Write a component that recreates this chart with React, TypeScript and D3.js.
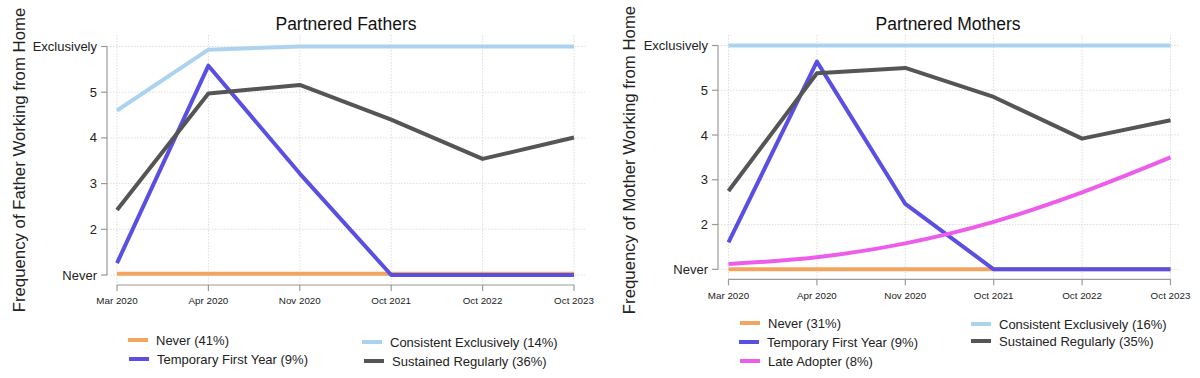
import React from "react";
import * as d3 from "d3";

const waves = ["Mar 2020", "Apr 2020", "Nov 2020", "Oct 2021", "Oct 2022", "Oct 2023"];
const yTickValues = [1, 2, 3, 4, 5, 6];
const yTickLabels = ["Never", "2", "3", "4", "5", "Exclusively"];

// Partnered fathers
const fNever = [1.03, 1.03, 1.03, 1.03, 1.03, 1.03];
const fTemporary = [1.26, 5.58, 3.22, 1.0, 1.0, 1.0];
const fConsistent = [4.6, 5.93, 6.0, 6.0, 6.0, 6.0];
const fSustained = [2.42, 4.97, 5.16, 4.4, 3.54, 4.01];

// Partnered mothers
const mNever = [1.0, 1.0, 1.0, 1.0, 1.0, 1.0];
const mTemporary = [1.6, 5.64, 2.46, 1.0, 1.0, 1.0];
const mLate = [1.12, 1.27, 1.58, 2.06, 2.72, 3.5];
const mConsistent = [6.0, 6.0, 6.0, 6.0, 6.0, 6.0];
const mSustained = [2.75, 5.38, 5.5, 4.85, 3.92, 4.33];

const fLabels = ["Never (41%)", "Temporary First Year (9%)", "Consistent Exclusively (14%)", "Sustained Regularly (36%)"];
const mLabels = ["Never (31%)", "Temporary First Year (9%)", "Late Adopter (8%)", "Consistent Exclusively (16%)", "Sustained Regularly (35%)"];

const C = {
  never: "#f2a461",
  temp: "#5a4fe3",
  late: "#ee5de9",
  cons: "#acd3ee",
  sust: "#555555",
};

const FONT = "'Liberation Sans', Arial, Helvetica, sans-serif";

type Series = { values: number[]; color: string; curve?: boolean };
type LegendItem = { label: string; color: string; x: number; y: number };

function Panel(props: {
  title: string;
  yTitle: string;
  x0: number;
  x1: number;
  yTop: number;
  yBottom: number;
  axisX: number;
  axisY: number;
  gridRight: number;
  gridTop: number;
  titleX: number;
  yTitleX: number;
  series: Series[];
  legend: LegendItem[];
}) {
  const { x0, x1, yTop, yBottom, axisX, axisY, gridRight, gridTop } = props;
  const x = d3.scalePoint<string>().domain(waves).range([x0, x1]);
  const y = d3.scaleLinear().domain([1, 6]).range([yBottom, yTop]);
  const gridColor = "#dcdcdc";
  const axisColor = "#9a9a9a";
  return (
    <g>
      {/* grid */}
      {yTickValues.map((v) => (
        <line key={"gy" + v} x1={axisX} x2={gridRight} y1={y(v)} y2={y(v)} stroke={gridColor} strokeWidth={1} strokeDasharray="1.5,1.5" />
      ))}
      {waves.map((w) => (
        <line key={"gx" + w} x1={x(w)} x2={x(w)} y1={gridTop} y2={axisY} stroke={gridColor} strokeWidth={1} strokeDasharray="1.5,1.5" />
      ))}
      {/* axes */}
      <line x1={axisX} x2={axisX} y1={y(6)} y2={y(1)} stroke={axisColor} strokeWidth={1.2} />
      {yTickValues.map((v, i) => (
        <g key={"yt" + v}>
          <line x1={axisX - 6} x2={axisX} y1={y(v)} y2={y(v)} stroke={axisColor} strokeWidth={1.2} />
          <text x={axisX - 10} y={y(v)} dy="0.35em" textAnchor="end" fontSize={13} fontFamily={FONT} fill="#222">
            {yTickLabels[i]}
          </text>
        </g>
      ))}
      <line x1={x(waves[0])} x2={x(waves[waves.length - 1])} y1={axisY} y2={axisY} stroke={axisColor} strokeWidth={1.2} />
      {waves.map((w) => (
        <g key={"xt" + w}>
          <line x1={x(w)} x2={x(w)} y1={axisY} y2={axisY + 6} stroke={axisColor} strokeWidth={1.2} />
          <text x={x(w)} y={axisY + 16} dy="0.35em" textAnchor="middle" fontSize={9.8} fontFamily={FONT} fill="#222">
            {w}
          </text>
        </g>
      ))}
      {/* series */}
      {props.series.map((s, i) => {
        const gen = d3
          .line<number>()
          .x((_, j) => x(waves[j]) as number)
          .y((v) => y(v))
          .curve(s.curve ? d3.curveMonotoneX : d3.curveLinear);
        return <path key={"s" + i} d={gen(s.values) || ""} fill="none" stroke={s.color} strokeWidth={4} strokeLinejoin="round" />;
      })}
      {/* titles */}
      <text x={props.titleX} y={24} dy="0.35em" textAnchor="middle" fontSize={17.5} fontFamily={FONT} fill="#111">
        {props.title}
      </text>
      <text
        transform={`translate(${props.yTitleX},160) rotate(-90)`}
        textAnchor="middle"
        dy="0.35em"
        fontSize={16.8}
        fontFamily={FONT}
        fill="#222"
      >
        {props.yTitle}
      </text>
      {/* legend */}
      {props.legend.map((l) => (
        <g key={l.label}>
          <line x1={l.x} x2={l.x + 20} y1={l.y} y2={l.y} stroke={l.color} strokeWidth={4} />
          <text x={l.x + 28} y={l.y} dy="0.35em" fontSize={13} fontFamily={FONT} fill="#222">
            {l.label}
          </text>
        </g>
      ))}
    </g>
  );
}

export default function App() {
  return (
    <svg width={1200} height={378} style={{ position: "absolute", left: 0, top: 0, background: "#fff" }}>
      <rect width={1200} height={378} fill="#fff" />
      <Panel
        title="Partnered Fathers"
        yTitle="Frequency of Father Working from Home"
        x0={117}
        x1={574}
        yTop={46.5}
        yBottom={275}
        axisX={107}
        axisY={285}
        gridRight={585}
        gridTop={35}
        titleX={346}
        yTitleX={19}
        series={[
          { values: fNever, color: C.never },
          { values: fTemporary, color: C.temp },
          { values: fConsistent, color: C.cons },
          { values: fSustained, color: C.sust },
        ]}
        legend={[
          { label: fLabels[0], color: C.never, x: 128, y: 340 },
          { label: fLabels[1], color: C.temp, x: 129, y: 359 },
          { label: fLabels[2], color: C.cons, x: 362, y: 342 },
          { label: fLabels[3], color: C.sust, x: 364, y: 361 },
        ]}
      />
      <Panel
        title="Partnered Mothers"
        yTitle="Frequency of Mother Working from Home"
        x0={728.5}
        x1={1170.5}
        yTop={45.5}
        yBottom={269.3}
        axisX={718}
        axisY={279.3}
        gridRight={1180}
        gridTop={35}
        titleX={948}
        yTitleX={629}
        series={[
          { values: mNever, color: C.never },
          { values: mTemporary, color: C.temp },
          { values: mLate, color: C.late, curve: true },
          { values: mConsistent, color: C.cons },
          { values: mSustained, color: C.sust },
        ]}
        legend={[
          { label: mLabels[0], color: C.never, x: 740, y: 323 },
          { label: mLabels[1], color: C.temp, x: 739, y: 342 },
          { label: mLabels[2], color: C.late, x: 740, y: 361 },
          { label: mLabels[3], color: C.cons, x: 971, y: 324 },
          { label: mLabels[4], color: C.sust, x: 971, y: 341 },
        ]}
      />
    </svg>
  );
}
